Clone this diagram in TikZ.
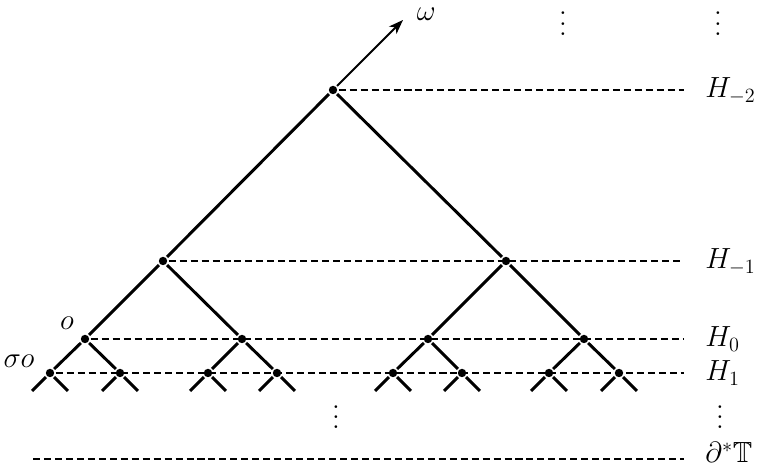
\documentclass[tikz,border=0pt]{standalone}
\usepackage{amssymb}
\usetikzlibrary{arrows.meta}

\newcommand\tightvdots{\vbox{\baselineskip4pt\lineskiplimit0pt\hbox{.}\hbox{.}\hbox{.}}}

\tikzset{
  dot/.style={circle,fill,inner sep=0pt,minimum size=2.1mm},
  level/.style={line width=0.8pt,dash pattern=on 5pt off 2.8pt},
  hlab/.style={anchor=base west,inner sep=0pt,font=\huge},
  tlab/.style={inner sep=0pt,font=\huge},
  dots/.style={inner sep=0pt,scale=1.85}
}

\begin{document}
\begin{tikzpicture}[>={Stealth[length=3.6mm,width=2.6mm,inset=1mm]}, line width=2.1pt]
  \useasboundingbox (0,0) rectangle (18.925,11.7);
  % tree nodes
  \node[dot] (r) at (8.325,9.45) {};
  \node[dot] (a1) at (4.075,5.175) {};
  \node[dot] (a2) at (12.65,5.175) {};
  \node[dot] (b1) at (2.125,3.225) {};
  \node[dot] (b2) at (6.05,3.225) {};
  \node[dot] (b3) at (10.7,3.225) {};
  \node[dot] (b4) at (14.6,3.225) {};
  \node[dot] (c1) at (1.25,2.375) {};
  \node[dot] (c2) at (3.0,2.375) {};
  \node[dot] (c3) at (5.2,2.375) {};
  \node[dot] (c4) at (6.925,2.375) {};
  \node[dot] (c5) at (9.825,2.375) {};
  \node[dot] (c6) at (11.55,2.375) {};
  \node[dot] (c7) at (13.725,2.375) {};
  \node[dot] (c8) at (15.475,2.375) {};
  \coordinate (w) at (10.075,11.2);
  % edges
  \draw[->,line width=1.5pt] (r) -- (w);
  \draw (a1) -- (r) -- (a2);
  \draw (b1) -- (a1) -- (b2);
  \draw (b3) -- (a2) -- (b4);
  \draw (c1) -- (b1) -- (c2);
  \draw (c3) -- (b2) -- (c4);
  \draw (c5) -- (b3) -- (c6);
  \draw (c7) -- (b4) -- (c8);
  \foreach \n in {1,...,8} {
    \path (c\n) ++(-0.45,-0.45) coordinate (l\n) ++(0.9,0) coordinate (m\n);
    \draw (l\n) -- (c\n) -- (m\n);
  }
  % horospheres
  \coordinate (e2) at (17.1,9.45);
  \coordinate (e1) at (17.1,5.175);
  \coordinate (e0) at (17.1,3.225);
  \coordinate (f1) at (17.1,2.375);
  \coordinate (s0) at (0.825,0.225);
  \coordinate (s1) at (17.1,0.225);
  \draw[level] (r) -- (e2);
  \draw[level] (a1) -- (e1);
  \draw[level] (b1) -- (e0);
  \draw[level] (c1) -- (f1);
  \draw[level] (s0) -- (s1);
  % labels
  \node[hlab] (hm2) at (17.6,9.25) {$H_{-2}$};
  \node[hlab] (hm1) at (17.6,4.975) {$H_{-1}$};
  \node[hlab] (h0) at (17.6,3.025) {$H_0$};
  \node[hlab] (h1) at (17.6,2.175) {$H_1$};
  \node[hlab] (bd) at (17.6,0.125) {$\partial^*\mathbb{T}$};
  \node[tlab] (om) at (10.66,11.35) {$\omega$};
  \node[tlab] (o) at (1.675,3.625) {$o$};
  \node[tlab] (so) at (0.475,2.675) {$\sigma o$};
  \node[dots] (v1) at (14.075,11.1) {\tightvdots};
  \node[dots] (v2) at (17.95,11.1) {\tightvdots};
  \node[dots] (v3) at (8.4,1.27) {\tightvdots};
  \node[dots] (v4) at (18.0,1.27) {\tightvdots};
\end{tikzpicture}
\end{document}
